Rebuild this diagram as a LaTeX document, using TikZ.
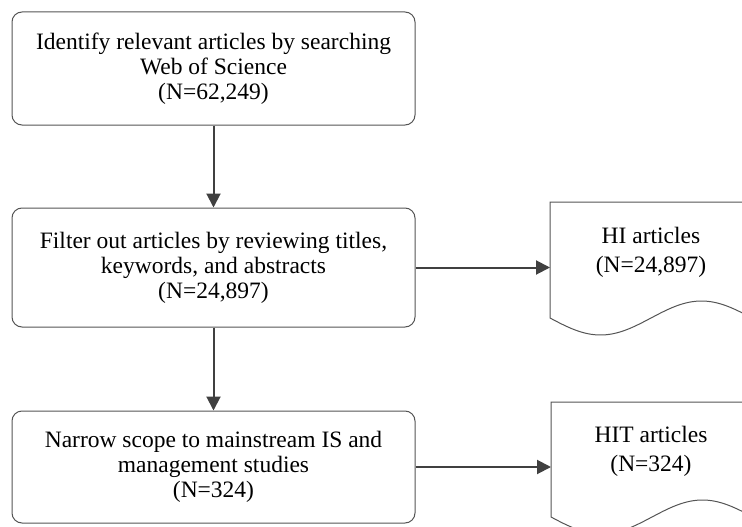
\documentclass[tikz,border=0pt]{standalone}
\usepackage{fontspec}
\setmainfont{Liberation Serif}
\usetikzlibrary{arrows.meta}
\definecolor{boxline}{HTML}{555555}
\definecolor{arrowcol}{HTML}{404040}
\tikzset{
  x=1pt,y=-1pt,
  procbox/.style={draw=boxline, line width=1pt, rounded corners=10pt, align=center,
    minimum width=403pt, inner sep=0pt, font=\fontsize{23.5}{25}\selectfont},
  docshape/.style={draw=boxline, line width=1pt},
  doctext/.style={align=center, inner sep=0pt, font=\fontsize{23.5}{29}\selectfont},
  flowarrow/.style={draw=arrowcol, line width=2pt, -{Triangle[width=14pt,length=14pt]}},
}
\begin{document}
\begin{tikzpicture}
\useasboundingbox (0,0) rectangle (742,527);
\clip (0,0) rectangle (742,527);
\fill[white] (0,0) rectangle (742,527);

\node[procbox, minimum height=113pt] (b1) at (213.5,68.5)
  {Identify relevant articles by searching\\Web of Science\\(N=62,249)};
\node[procbox, minimum height=119pt] (b2) at (213.5,267.5)
  {Filter out articles by reviewing titles,\\keywords, and abstracts\\(N=24,897)};
\node[procbox, minimum height=112pt] (b3) at (213.5,467)
  {Narrow scope to mainstream IS and\\management studies\\(N=324)};

% document shapes
\draw[docshape] plot[domain=0:202, samples=80, smooth] ({550+\x},{318+17*sin(\x/202*360)})
  -- (752,202) -- (550,202) -- cycle;
\coordinate (d1w) at (550,260);
\node[doctext] (d1) at (651,252) {HI articles\\(N=24,897)};

\draw[docshape] plot[domain=0:202, samples=80, smooth] ({551+\x},{517+17*sin(\x/202*360)})
  -- (753,402) -- (551,402) -- cycle;
\coordinate (d2w) at (551,460);
\node[doctext] (d2) at (651,451) {HIT articles\\(N=324)};

\draw[flowarrow] (b1.south) -- (b2.north);
\draw[flowarrow] (b2.south) -- (b3.north);
\draw[flowarrow] (b2.east) -- (b2.east -| d1w);
\draw[flowarrow] (b3.east) -- (b3.east -| d2w);
\end{tikzpicture}
\end{document}
